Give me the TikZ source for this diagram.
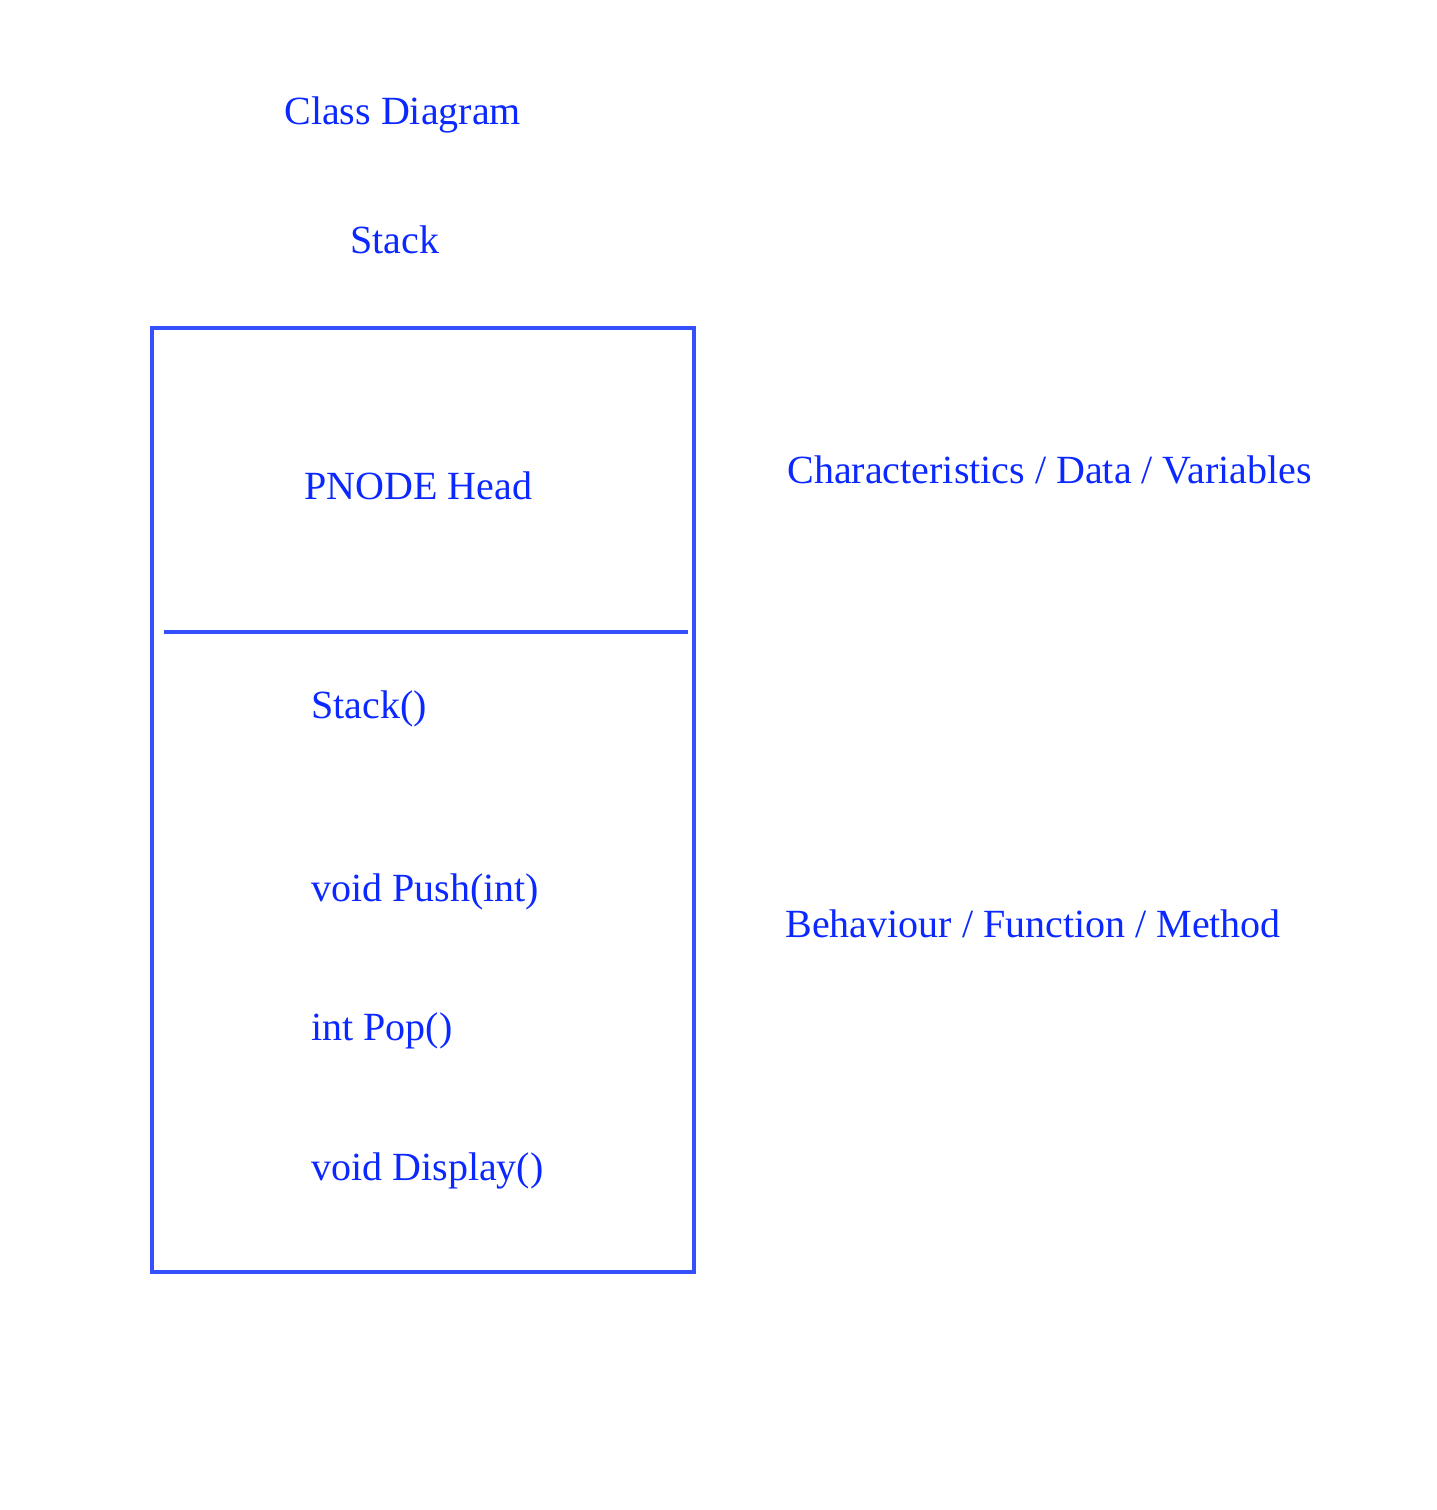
\documentclass[tikz,border=0pt]{standalone}
\usepackage{fontspec}
\setmainfont{Liberation Serif}
\definecolor{umltext}{RGB}{10,40,255}
\definecolor{umlline}{RGB}{55,80,255}

\begin{document}
\begin{tikzpicture}[x=0.5pt, y=-0.5pt,
	label text/.style={anchor=base west, inner sep=0pt, text=umltext, font=\fontsize{20}{24}\selectfont},
	class line/.style={draw=umlline, line width=2pt}]
	\useasboundingbox (0,0) rectangle (1436,1510);
	% Paths, nodes and wires:
	\node[label text] (title) at (284,124) {Class Diagram};
	\node[label text] (classname) at (350,253) {Stack};
	\node[label text] (attrHead) at (304,499) {PNODE Head};
	\node[label text] (ctor) at (311,718) {Stack()};
	\node[label text] (push) at (311,901) {void Push(int)};
	\node[label text] (pop) at (311,1040) {int Pop()};
	\node[label text] (display) at (311,1180) {void Display()};
	\node[label text] (dataNote) at (787,483) {Characteristics / Data / Variables};
	\node[label text] (methodNote) at (785,937) {Behaviour / Function / Method};
	\coordinate (boxNW) at (152,328);
	\coordinate (boxSE) at (694,1272);
	\draw[class line] (boxNW) rectangle (boxSE);
	\coordinate (divW) at (164,632);
	\coordinate (divE) at (688,632);
	\draw[class line] (divW) -- (divE);
\end{tikzpicture}
\end{document}
